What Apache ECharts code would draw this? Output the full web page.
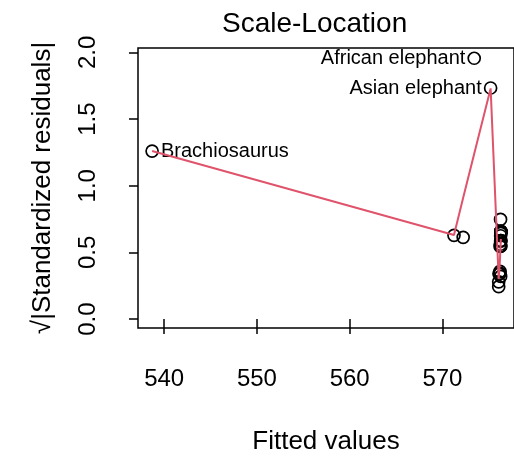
<!DOCTYPE html>
<html>
<head>
<meta charset="utf-8">
<script src="https://cdn.jsdelivr.net/npm/echarts@6/dist/echarts.min.js"></script>
<style>
html,body{margin:0;padding:0;background:#fff;}
#chart{width:514px;height:460px;}
</style>
</head>
<body>
<div id="chart"></div>
<script>
// Observation names (MASS Animals, lm(brain ~ body))
var names = ["Mountain beaver","Cow","Grey wolf","Goat","Guinea pig","Dipliodocus","Asian elephant","Donkey","Horse","Potar monkey","Cat","Giraffe","Gorilla","Human","African elephant","Triceratops","Rhesus monkey","Kangaroo","Golden hamster","Mouse","Rabbit","Sheep","Jaguar","Chimpanzee","Rat","Brachiosaurus","Mole","Pig"];
// Fitted values (x)
var fitted = [576.30,576.10,576.28,576.29,576.30,571.25,575.20,576.22,576.07,576.30,576.30,576.07,576.21,576.27,573.43,572.24,576.30,576.28,576.30,576.30,576.30,576.28,576.26,576.28,576.30,538.70,576.30,576.22];
// sqrt(|standardized residuals|) (y)
var sqrtStdRes = [0.653,0.339,0.585,0.588,0.654,0.628,1.733,0.343,0.243,0.588,0.643,0.279,0.357,0.747,1.956,0.613,0.546,0.625,0.657,0.657,0.650,0.548,0.561,0.320,0.656,1.260,0.656,0.545];
// Labelled extreme points
var labelled = {"Brachiosaurus":"right","African elephant":"left","Asian elephant":"left"};
// Smoother (lowess) curve
var smoothX = [538.70,571.25,572.24,573.43,575.20,576.07,576.10,576.21,576.30];
var smoothY = [1.26,0.63,0.91,1.24,1.73,0.30,0.33,0.45,0.60];
// Tick values
var xTicks = [540,550,560,570];
var yTicks = [0,0.5,1,1.5,2];

var FONT = "Liberation Sans, Arial, Helvetica, sans-serif";

var pts = names.map(function(n,i){
  var item = {name:n, value:[fitted[i], sqrtStdRes[i]]};
  if (labelled[n]) {
    item.label = {show:true, position:labelled[n], formatter:n, distance:2,
      fontSize:20, color:'#000', opacity:1, fontFamily:FONT};
  }
  return item;
});
var smooth = smoothX.map(function(x,i){return [x, smoothY[i]];});

var chart = echarts.init(document.getElementById('chart'), null, {renderer:'canvas'});
chart.setOption({
  animation:false,
  backgroundColor:'#fff',
  title:{text:'Scale-Location', left:217, top:5,
    textStyle:{fontSize:28, fontWeight:'normal', color:'#000', fontFamily:FONT}},
  grid:{left:138, top:48, right:-2, bottom:130, show:true, borderColor:'#000', borderWidth:1.5, containLabel:false},
  xAxis:{type:'value', min:537.18, max:577.72,
    name:'Fitted values', nameLocation:'middle', nameGap:101,
    nameTextStyle:{fontSize:26, color:'#000', fontFamily:FONT},
    axisLine:{show:false},
    axisTick:{show:true, length:15, lineStyle:{color:'#000', width:1.5}, customValues:xTicks},
    axisLabel:{show:true, margin:39, fontSize:24, color:'#000', fontFamily:FONT, customValues:xTicks,
      formatter:function(v){return String(v);}},
    splitLine:{show:false}},
  yAxis:{type:'value', min:-0.067, max:2.033,
    name:'\u221A|Standardized residuals|', nameLocation:'middle', nameGap:82,
    nameTextStyle:{fontSize:26, color:'#000', fontFamily:FONT},
    axisLine:{show:false},
    axisTick:{show:true, length:9, lineStyle:{color:'#000', width:1.5}, customValues:yTicks},
    axisLabel:{show:true, margin:38, rotate:90, fontSize:24, color:'#000', fontFamily:FONT, customValues:yTicks,
      formatter:function(v){return v.toFixed(1);}},
    splitLine:{show:false}},
  series:[
    {type:'scatter', data:pts, symbol:'circle', symbolSize:12,
      itemStyle:{color:'rgba(0,0,0,0)', borderColor:'#000', borderWidth:1.7, opacity:1},
      emphasis:{disabled:true}, z:2},
    {type:'line', data:smooth, showSymbol:false, symbol:'none', smooth:false,
      lineStyle:{color:'#DF536B', width:2}, z:3, emphasis:{disabled:true}}
  ]
});
</script>
</body>
</html>
